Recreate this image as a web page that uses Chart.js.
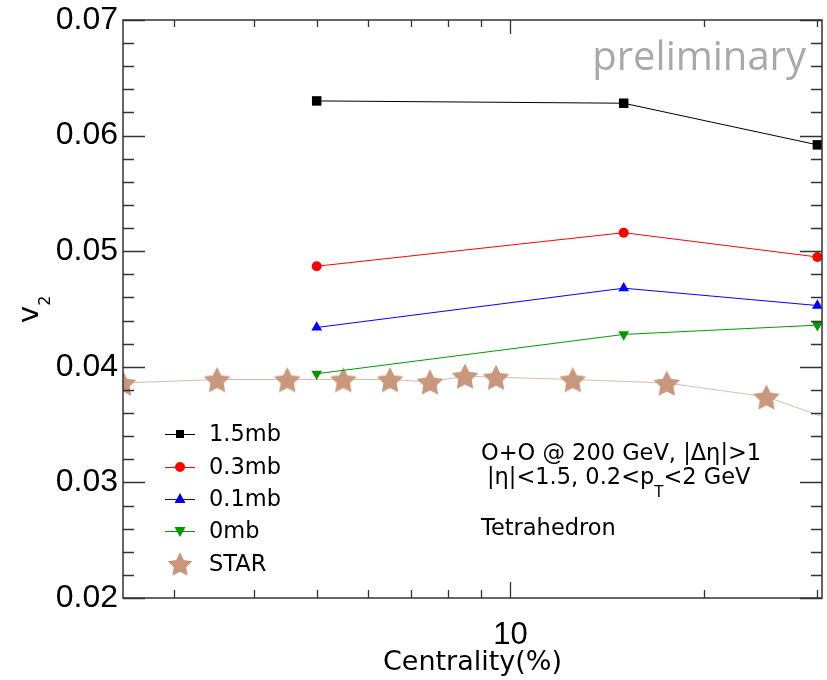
<!DOCTYPE html>
<html>
<head>
<meta charset="utf-8">
<script src="https://cdn.jsdelivr.net/npm/chart.js@4"></script>
<style>
  html, body { margin: 0; padding: 0; background: #fff; overflow: hidden; }
  canvas { display: block; }
</style>
</head>
<body>
<canvas id="v2chart" width="827" height="680"></canvas>
<script>
// centrality bins (%) of the model curves and of the STAR data
const centralityModel = [5, 15, 30];
const centralitySTAR = [2.5, 3.5, 4.5, 5.5, 6.5, 7.5, 8.5, 9.5, 12.5, 17.5, 25, 30.5];

// v2 values
const v2_15mb = [0.0630, 0.0628, 0.0592];
const v2_03mb = [0.0487, 0.0516, 0.0495];
const v2_01mb = [0.0434, 0.0468, 0.0453];
const v2_0mb = [0.0394, 0.0428, 0.0436];
// last entry is where the STAR line leaves the frame (no marker)
const v2STAR = [0.0386, 0.0389, 0.0389, 0.0389, 0.0389, 0.0387, 0.0392, 0.0391, 0.0389, 0.0386, 0.0374, 0.0357];

const yTicks = [0.02, 0.03, 0.04, 0.05, 0.06, 0.07];
const xLabelTicks = [10];
const xMinorTicks = [3, 4, 5, 6, 7, 8, 9, 20, 30];

const FONT = '"Liberation Sans", Arial, Helvetica, sans-serif';
const WIDE = '"DejaVu Sans", sans-serif';
const STAR_COLOR = '#c9977b';

function pts(xs, ys) {
    return xs.map((x, i) => ({ x: x, y: ys[i] }));
}

function makeStar(r, color) {
    const c = document.createElement('canvas');
    const s = Math.ceil(r * 2) + 2;
    c.width = s;
    c.height = s;
    const g = c.getContext('2d');
    g.translate(s / 2, s / 2 + r * 0.1);
    g.beginPath();
    for (let i = 0; i < 10; i++) {
        const rr = i % 2 ? r * 0.5 : r;
        const a = -Math.PI / 2 + i * Math.PI / 5;
        g.lineTo(rr * Math.cos(a), rr * Math.sin(a));
    }
    g.closePath();
    g.fillStyle = color;
    g.fill();
    return c;
}

const starImg = makeStar(14, STAR_COLOR);
const starLegendImg = makeStar(13, STAR_COLOR);

// draw a legend marker in the same style as the datasets
function drawMarker(ctx, ds, x, y) {
    ctx.save();
    ctx.fillStyle = ds.pointBackgroundColor;
    const st = ds.legendStyle;
    ctx.beginPath();
    if (st === 'rect') {
        ctx.rect(x - 4, y - 4, 8, 8);
        ctx.fill();
    } else if (st === 'circle') {
        ctx.arc(x, y, 5, 0, Math.PI * 2);
        ctx.fill();
    } else if (st === 'up') {
        ctx.moveTo(x, y - 6);
        ctx.lineTo(x + 5.5, y + 4);
        ctx.lineTo(x - 5.5, y + 4);
        ctx.closePath();
        ctx.fill();
    } else if (st === 'down') {
        ctx.moveTo(x, y + 6);
        ctx.lineTo(x + 5.5, y - 4);
        ctx.lineTo(x - 5.5, y - 4);
        ctx.closePath();
        ctx.fill();
    } else if (st === 'star') {
        ctx.drawImage(starLegendImg, x - starLegendImg.width / 2, y - starLegendImg.height / 2);
    }
    ctx.restore();
}

const framePlugin = {
    id: 'frame',
    afterDraw(chart) {
        const ctx = chart.ctx;
        const a = chart.chartArea;
        const xs = chart.scales.x;
        const ys = chart.scales.y;

        ctx.save();
        ctx.strokeStyle = '#333';
        ctx.lineWidth = 1.5;
        ctx.strokeRect(a.left, a.top, a.right - a.left, a.bottom - a.top);

        // y ticks, both sides, inward
        ctx.lineWidth = 1.3;
        ctx.beginPath();
        for (let k = 0; k <= 25; k++) {
            const v = 0.02 + k * 0.002;
            const py = Math.round(ys.getPixelForValue(v)) + 0.5;
            const len = (k % 5 === 0) ? 22 : 11;
            ctx.moveTo(a.left, py);
            ctx.lineTo(a.left + len, py);
            ctx.moveTo(a.right, py);
            ctx.lineTo(a.right - len, py);
        }
        // x ticks, bottom and top
        xMinorTicks.concat(xLabelTicks).forEach(v => {
            const px = Math.round(xs.getPixelForValue(v)) + 0.5;
            const major = xLabelTicks.includes(v);
            ctx.moveTo(px, a.bottom);
            ctx.lineTo(px, a.bottom - (major ? 16 : 8));
            ctx.moveTo(px, a.top);
            ctx.lineTo(px, a.top + (major ? 14 : 7));
        });
        ctx.stroke();

        // y title v_2
        ctx.fillStyle = '#000';
        ctx.save();
        ctx.translate(38, 323);
        ctx.rotate(-Math.PI / 2);
        ctx.textBaseline = 'alphabetic';
        ctx.font = '29px ' + WIDE;
        ctx.fillText('v', 0, 0);
        const vw = ctx.measureText('v').width;
        ctx.font = '16px ' + WIDE;
        ctx.fillText('2', vw, 12);
        ctx.restore();

        // preliminary
        ctx.fillStyle = '#a9a9a9';
        ctx.font = '40px "Open Sans", sans-serif';
        ctx.textAlign = 'right';
        ctx.textBaseline = 'alphabetic';
        ctx.fillText('preliminary', 806, 70);

        // annotations
        ctx.fillStyle = '#000';
        ctx.textAlign = 'left';
        ctx.font = '22.5px ' + WIDE;
        ctx.fillText('O+O @ 200 GeV, |\u0394\u03b7|>1', 481, 460);
        let x = 487;
        const s1 = '|\u03b7|<1.5, 0.2<p';
        ctx.fillText(s1, x, 484);
        x += ctx.measureText(s1).width;
        ctx.font = '15px ' + WIDE;
        ctx.fillText('T', x, 497);
        x += ctx.measureText('T').width;
        ctx.font = '22.5px ' + WIDE;
        ctx.fillText('<2 GeV', x, 484);
        ctx.fillText('Tetrahedron', 481, 535);

        // legend
        const rows = [434, 467, 499, 531, 564];
        chart.data.datasets.forEach((ds, i) => {
            const y = rows[i];
            if (ds.legendStyle !== 'star') {
                ctx.strokeStyle = ds.borderColor;
                ctx.lineWidth = 1;
                ctx.beginPath();
                ctx.moveTo(165, y + 0.5);
                ctx.lineTo(195, y + 0.5);
                ctx.stroke();
            }
            drawMarker(ctx, ds, 180, y);
            ctx.fillStyle = '#000';
            ctx.font = '22.5px ' + WIDE;
            ctx.textBaseline = 'middle';
            ctx.fillText(ds.label, 209, y + 1);
        });
        ctx.restore();
    }
};

const datasets = [
    {
        label: '1.5mb', data: pts(centralityModel, v2_15mb),
        borderColor: '#000', pointBackgroundColor: '#000', pointBorderWidth: 0,
        pointStyle: 'rect', pointRadius: 6.7, legendStyle: 'rect'
    },
    {
        label: '0.3mb', data: pts(centralityModel, v2_03mb),
        borderColor: '#ff0000', pointBackgroundColor: '#ff0000', pointBorderWidth: 0,
        pointStyle: 'circle', pointRadius: 5, legendStyle: 'circle'
    },
    {
        label: '0.1mb', data: pts(centralityModel, v2_01mb),
        borderColor: '#0000ff', pointBackgroundColor: '#0000ff', pointBorderWidth: 0,
        pointStyle: 'triangle', pointRadius: 6.2, legendStyle: 'up'
    },
    {
        label: '0mb', data: pts(centralityModel, v2_0mb),
        borderColor: '#009a00', pointBackgroundColor: '#009a00', pointBorderWidth: 0,
        pointStyle: 'triangle', pointRotation: 180, pointRadius: 6.2, legendStyle: 'down'
    },
    {
        label: 'STAR', data: pts(centralitySTAR, v2STAR),
        borderColor: '#dcbba8', pointBackgroundColor: STAR_COLOR,
        pointStyle: centralitySTAR.map((c, i) => i < centralitySTAR.length - 1 ? starImg : false),
        pointRadius: centralitySTAR.map((c, i) => i < centralitySTAR.length - 1 ? 14 : 0),
        legendStyle: 'star'
    }
];

datasets.forEach(ds => {
    ds.borderWidth = 1;
    ds.tension = 0;
    ds.fill = false;
});

new Chart(document.getElementById('v2chart').getContext('2d'), {
    type: 'line',
    data: { datasets: datasets },
    options: {
        responsive: false,
        animation: false,
        devicePixelRatio: 1,
        layout: {
            autoPadding: false,
            padding: { top: 20, right: 5, left: 0, bottom: 0 }
        },
        plugins: {
            legend: { display: false },
            tooltip: { enabled: false }
        },
        scales: {
            x: {
                type: 'logarithmic',
                min: 2.5,
                max: 30.5,
                grid: { display: false, drawTicks: false },
                border: { display: false },
                afterBuildTicks: axis => {
                    axis.ticks = xLabelTicks.map(v => ({ value: v }));
                },
                afterFit: axis => {
                    axis.height = 82;
                    axis.paddingLeft = 0;
                    axis.paddingRight = 0;
                },
                ticks: {
                    autoSkip: false,
                    maxRotation: 0,
                    padding: 19,
                    color: '#000',
                    font: { family: FONT, size: 31 },
                    callback: v => String(v)
                },
                title: {
                    display: true,
                    text: 'Centrality(%)',
                    color: '#000',
                    font: { family: WIDE, size: 27 },
                    padding: { top: 0, bottom: 1 }
                }
            },
            y: {
                min: 0.02,
                max: 0.07,
                grid: { display: false, drawTicks: false },
                border: { display: false },
                afterBuildTicks: axis => {
                    axis.ticks = yTicks.map(v => ({ value: v }));
                },
                afterFit: axis => {
                    axis.width = 123;
                    axis.paddingTop = 0;
                    axis.paddingBottom = 0;
                },
                ticks: {
                    padding: 5,
                    color: '#000',
                    font: { family: FONT, size: 32 },
                    callback: v => v.toFixed(2)
                }
            }
        }
    },
    plugins: [framePlugin]
});
</script>
</body>
</html>
